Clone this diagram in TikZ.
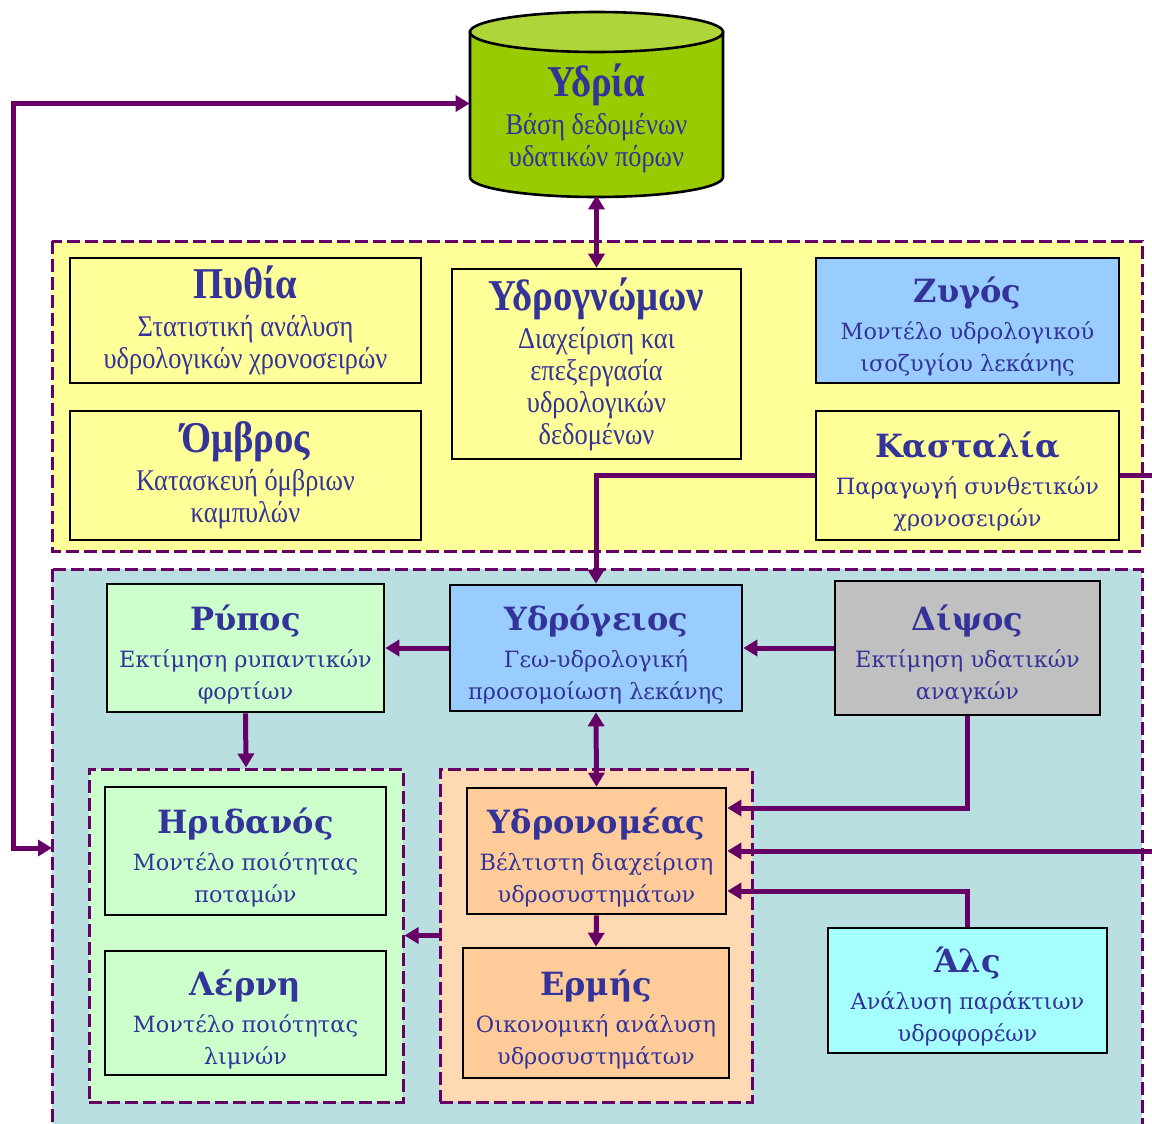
\documentclass[tikz,border=0pt]{standalone}
\usepackage{fontspec}
\usetikzlibrary{shapes.geometric,arrows.meta,positioning}

\newfontfamily\widefont{DejaVu Serif}
\newfontfamily\narrowfont[FakeStretch=0.88]{Liberation Serif}
\newcommand{\modtitle}[1]{{\bfseries\fontsize{16}{19}\selectfont\rule{0pt}{19pt}#1}}
\newcommand{\narrowtitle}[1]{{\bfseries\fontsize{22}{24}\selectfont #1}}

\definecolor{txtblue}{HTML}{333399}
\definecolor{linkpurple}{HTML}{660066}
\definecolor{paleyellow}{HTML}{FFFF99}
\definecolor{paleteal}{HTML}{B9DFE1}
\definecolor{skyblue}{HTML}{99CCFF}
\definecolor{palegreen}{HTML}{CCFFCC}
\definecolor{midgray}{HTML}{C0C0C0}
\definecolor{peach}{HTML}{FFD9B3}
\definecolor{apricot}{HTML}{FFCC99}
\definecolor{palecyan}{HTML}{A6FFFF}
\definecolor{cylgreen}{HTML}{99CC00}
\definecolor{cyltop}{HTML}{AED63A}

\tikzset{
	modbox/.style={draw=black, line width=1.3pt, inner sep=0pt, align=center, text=txtblue,
		font=\widefont\fontsize{11.2}{16}\selectfont},
	narrowbox/.style={modbox, font=\narrowfont\fontsize{15}{16}\selectfont},
	boxsize/.style 2 args={minimum width=#1*0.5pt, minimum height=#2*0.5pt},
	grp/.style={draw=linkpurple, line width=1.5pt, dash pattern=on 6.5pt off 2.5pt},
	link/.style={draw=linkpurple, line width=2.5pt, -{Triangle[length=7pt,width=8pt]}},
	twolink/.style={link, {Triangle[length=7pt,width=8pt]}-{Triangle[length=7pt,width=8pt]}},
	cyl/.style={draw=black, line width=1.3pt},
}

\begin{document}
\begin{tikzpicture}[x=0.5pt, y=-0.5pt]
	\useasboundingbox (0,0) rectangle (1152,1124);

	\draw[grp, fill=paleyellow] (52,241) rectangle (1142,551);
	\draw[grp, fill=paleteal] (52,569) rectangle (1142,1160);
	\node[grp, fill=palegreen, boxsize={314}{333}] (rivergrp) at (246,935.5) {};
	\node[grp, fill=peach, boxsize={312}{333}] (ydrogrp) at (596,935.5) {};

	\draw[cyl, fill=cylgreen] (470,32) -- (470,177)
		arc[start angle=180, end angle=360, x radius=63.25pt, y radius=10pt] -- (723,32) -- cycle;
	\draw[cyl, fill=cyltop] (596.5,32) ellipse [x radius=63.25pt, y radius=10pt];
	\node[inner sep=0pt, minimum width=126.5pt, text=txtblue,
		font=\narrowfont\fontsize{15}{16}\selectfont] (ydria) at (596.5,103.5)
		{\parbox[c][91.5pt][b]{120pt}{\centering\narrowtitle{Υδρία}\\[3pt] Βάση δεδομένων\\ υδατικών πόρων\par\vspace{11pt}}};

	\node[narrowbox, fill=paleyellow, boxsize={351}{125}] (pythia) at (245.5,320.5)
		{\narrowtitle{Πυθία}\\[3pt] Στατιστική ανάλυση\\ υδρολογικών χρονοσειρών};
	\node[narrowbox, fill=paleyellow, boxsize={351}{129}] (ombros) at (245.5,475.5)
		{\narrowtitle{Όμβρος}\\[3pt] Κατασκευή όμβριων\\ καμπυλών};
	\node[narrowbox, fill=paleyellow, boxsize={289}{190}] (ydrognomon) at (596.5,364)
		{\narrowtitle{Υδρογνώμων}\\[3pt] Διαχείριση και\\ επεξεργασία\\ υδρολογικών\\ δεδομένων};
	\node[modbox, fill=skyblue, boxsize={303}{125}] (zygos) at (967.5,320.5)
		{\modtitle{Ζυγός}\\[2.5pt] Μοντέλο υδρολογικού\\ ισοζυγίου λεκάνης};
	\node[modbox, fill=paleyellow, boxsize={303}{129}] (kastalia) at (967.5,475.5)
		{\modtitle{Κασταλία}\\[2.5pt] Παραγωγή συνθετικών\\ χρονοσειρών};

	\node[modbox, fill=palegreen, boxsize={277}{128}] (rypos) at (245.5,648)
		{\modtitle{Ρύπος}\\[2.5pt] Εκτίμηση ρυπαντικών\\ φορτίων};
	\node[modbox, fill=skyblue, boxsize={292}{126}] (ydrogeios) at (596,648)
		{\modtitle{Υδρόγειος}\\[2.5pt] Γεω-υδρολογική\\ προσομοίωση λεκάνης};
	\node[modbox, fill=midgray, boxsize={265}{134}] (dipsos) at (967.5,648)
		{\modtitle{Δίψος}\\[2.5pt] Εκτίμηση υδατικών\\ αναγκών};
	\node[modbox, fill=palegreen, boxsize={281}{128}] (iridanos) at (245.5,851)
		{\modtitle{Ηριδανός}\\[2.5pt] Μοντέλο ποιότητας\\ ποταμών};
	\node[modbox, fill=palegreen, boxsize={281}{124}] (lerni) at (245.5,1013)
		{\modtitle{Λέρνη}\\[2.5pt] Μοντέλο ποιότητας\\ λιμνών};
	\node[modbox, fill=apricot, boxsize={259}{126}] (ydronomeas) at (596.5,851)
		{\modtitle{Υδρονομέας}\\[2.5pt] Βέλτιστη διαχείριση\\ υδροσυστημάτων};
	\node[modbox, fill=apricot, boxsize={266}{130}] (ermis) at (596,1013)
		{\modtitle{Ερμής}\\[2.5pt] Οικονομική ανάλυση\\ υδροσυστημάτων};
	\node[modbox, fill=palecyan, boxsize={279}{125}] (als) at (967.5,990.5)
		{\modtitle{Άλς}\\[2.5pt] Ανάλυση παράκτιων\\ υδροφορέων};

	\coordinate (tealin) at (52,848);

	\draw[twolink] (ydria.south) -- (ydrognomon.north);
	\draw[link] (kastalia.west) -| (ydrogeios.north);
	\draw[link] (kastalia.east) -- ++(50,0) |- (ydronomeas.east);
	\draw[link] (ydrogeios.west) -- (rypos.east);
	\draw[link] (dipsos.west) -- (ydrogeios.east);
	\draw[link] (rypos.south) -- (rivergrp.north);
	\draw[twolink] (ydrogeios.south) -- (ydronomeas.north);
	\draw[link] (dipsos.south) |- ([yshift=21.5pt]ydronomeas.east);
	\draw[link] (als.north) |- ([yshift=-20pt]ydronomeas.east);
	\draw[link] (ydronomeas.south) -- (ermis.north);
	\draw[link] (ydrogrp.west) -- (rivergrp.east);
	\draw[twolink] (tealin) -- ++(-39,0) |- (ydria.west);
\end{tikzpicture}
\end{document}
